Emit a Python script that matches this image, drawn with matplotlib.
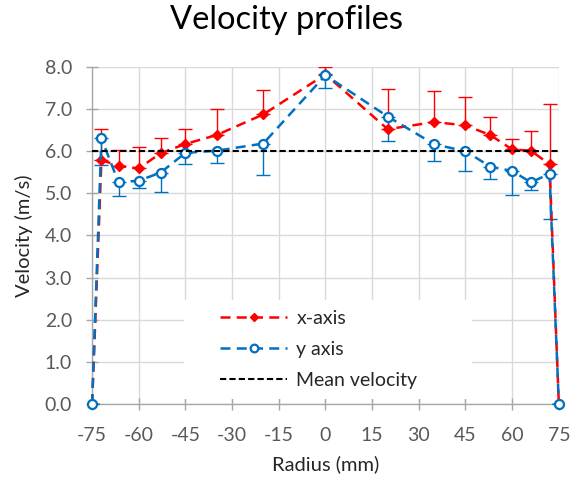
import matplotlib
matplotlib.use("Agg")
import matplotlib.pyplot as plt
from matplotlib.patches import Rectangle

# Radius positions (mm)
radius = [-75, -72, -66.5, -60, -53, -45, -35, -20, 0, 20, 35, 45, 53, 60, 66, 72, 75]

# x-axis velocity (m/s) and upward error
vel_x = [0.0, 5.79, 5.65, 5.59, 5.95, 6.17, 6.38, 6.87, 7.82, 6.52, 6.69, 6.61, 6.38, 6.04, 6.01, 5.69, 0.0]
err_x = [0.0, 0.73, 0.38, 0.51, 0.37, 0.36, 0.61, 0.58, 0.18, 0.95, 0.74, 0.68, 0.42, 0.24, 0.47, 1.43, 0.0]

# y axis velocity (m/s) and downward error
vel_y = [0.0, 6.30, 5.26, 5.30, 5.49, 5.96, 6.01, 6.18, 7.80, 6.82, 6.16, 6.00, 5.63, 5.53, 5.26, 5.46, 0.0]
err_y = [0.0, 0.63, 0.33, 0.18, 0.45, 0.27, 0.30, 0.75, 0.30, 0.58, 0.39, 0.47, 0.28, 0.57, 0.17, 1.06, 0.0]

mean_x = [-75, 75]
mean_v = [6.0, 6.0]

x_ticks = [-75, -60, -45, -30, -15, 0, 15, 30, 45, 60, 75]
y_ticks = [0, 1, 2, 3, 4, 5, 6, 7, 8]

plt.rcParams['font.family'] = ['Lato', 'DejaVu Sans']
plt.rcParams['axes.unicode_minus'] = False

RED = '#FF0000'
BLUE = '#0070C0'
GREY = '#595959'

fig = plt.figure(figsize=(5.72, 4.84), dpi=100)
ax = fig.add_axes([0.161, 0.165, 0.816, 0.697])

# --- x-axis serie ---
ax.errorbar(radius, vel_x, yerr=[[0] * len(err_x), err_x], fmt='none',
            ecolor=RED, elinewidth=1.0, capsize=5, capthick=1.0, zorder=3)
ax.plot(radius, vel_x, color=RED, linestyle=(0, (4, 2.5)), linewidth=1.8,
        marker='D', markersize=5, markerfacecolor=RED, markeredgecolor=RED,
        label='x-axis', zorder=4, clip_on=False)

# --- y axis serie ---
ax.errorbar(radius, vel_y, yerr=[err_y, [0] * len(err_y)], fmt='none',
            ecolor=BLUE, elinewidth=1.0, capsize=5, capthick=1.0, zorder=3)
ax.plot(radius, vel_y, color=BLUE, linestyle=(0, (4, 2.5)), linewidth=1.8,
        marker='o', markersize=6.5, markerfacecolor='white', markeredgecolor=BLUE,
        markeredgewidth=1.6, label='y axis', zorder=5, clip_on=False)

# --- media ---
ax.plot(mean_x, mean_v, color='black', linestyle=(0, (3, 1.5)), linewidth=1.5,
        label='Mean velocity', zorder=6)

ax.set_xlim(-75, 75)
ax.set_ylim(0, 8)
ax.set_xticks(x_ticks)
ax.set_yticks(y_ticks)
ax.set_yticklabels([f"{v:.1f}" for v in y_ticks])
ax.grid(True, color='#D9D9D9', linewidth=1.0)
ax.set_axisbelow(True)

for s in ['top', 'right']:
    ax.spines[s].set_visible(False)
for s in ['left', 'bottom']:
    ax.spines[s].set_color('#A6A6A6')
    ax.spines[s].set_linewidth(1.0)

ax.tick_params(direction='inout', length=9, width=1.0, color='#A6A6A6',
               labelcolor=GREY, labelsize=14)
ax.xaxis.set_tick_params(pad=12)
ax.yaxis.set_tick_params(pad=10)

ax.set_xlabel('Radius (mm)', fontsize=14.5, color='#262626', labelpad=8)
ax.set_ylabel('Velocity (m/s)', fontsize=14.5, color='#262626', labelpad=8)
fig.suptitle('Velocity profiles', fontsize=23.5, color='black', y=0.99)

# fundo branco da legenda (tapa a grade)
ax.add_patch(Rectangle((0.197, 0.016), 0.617, 0.293, transform=ax.transAxes,
                       facecolor='white', edgecolor='none', zorder=1))

leg = ax.legend(loc='upper left', bbox_to_anchor=(0.275, 0.28), fontsize=14,
                frameon=False, handlelength=3.4, borderpad=0, borderaxespad=0,
                labelspacing=0.72, handletextpad=0.5, markerscale=0.85)
for t in leg.get_texts():
    t.set_color('#262626')

plt.savefig('out.png', dpi=100)
